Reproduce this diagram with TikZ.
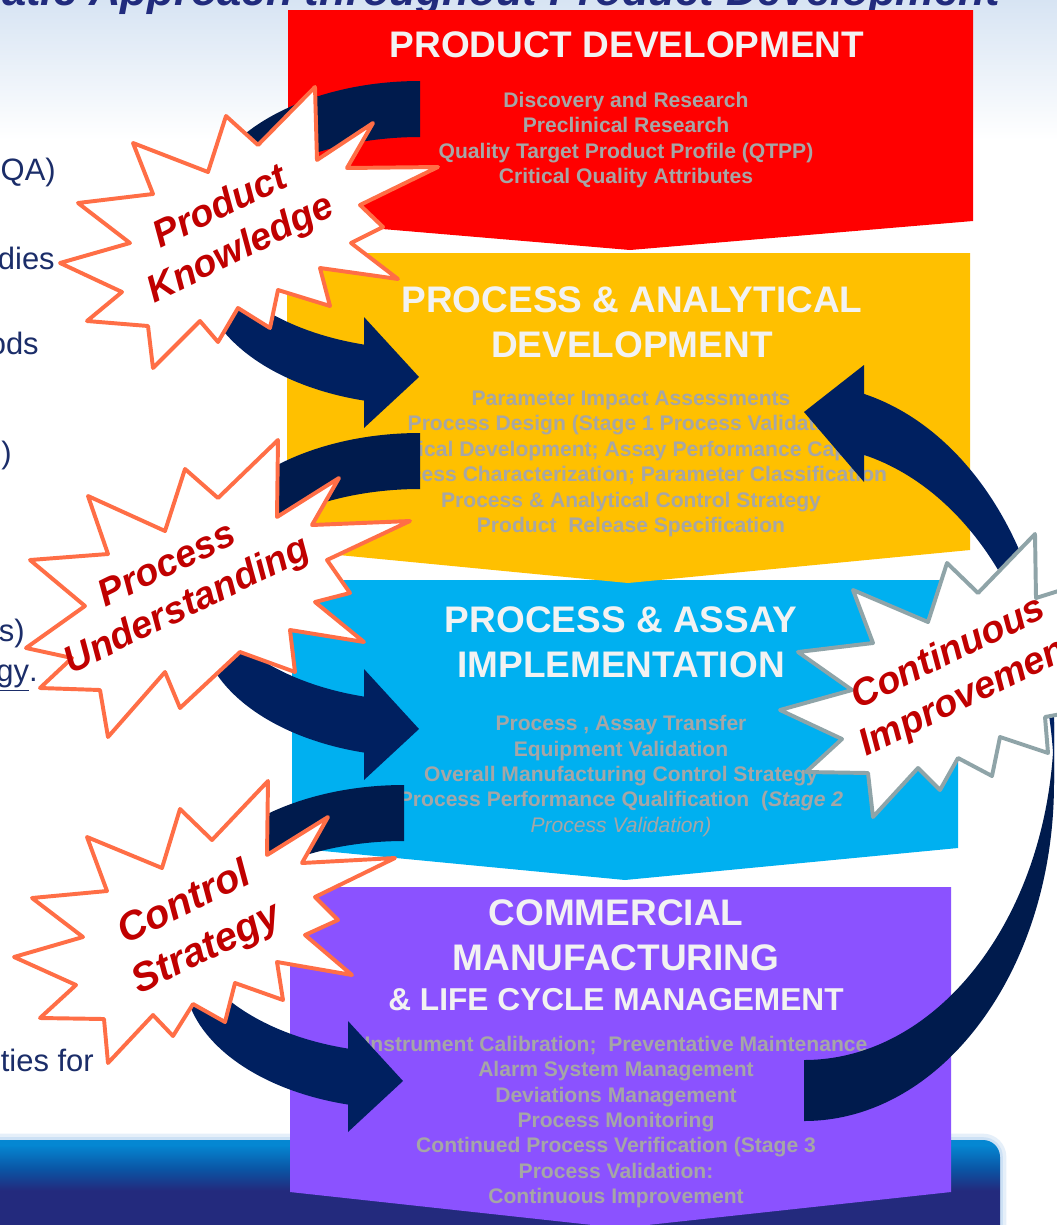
\documentclass[tikz,border=0pt]{standalone}
\usepackage{fontspec}
\setmainfont{Liberation Sans}
\usepackage{tikz}

\definecolor{pdred}{RGB}{255,0,0}
\definecolor{padyellow}{RGB}{255,192,0}
\definecolor{paicyan}{RGB}{0,176,240}
\definecolor{cmpurple}{RGB}{139,82,255}
\definecolor{titlewhite}{RGB}{242,242,242}
\definecolor{bodygray}{RGB}{166,166,166}
\definecolor{arrownavy}{RGB}{0,32,96}
\definecolor{arrowback}{RGB}{0,27,77}
\definecolor{burstorange}{RGB}{255,110,70}
\definecolor{burstgray}{RGB}{143,164,168}
\definecolor{burstred}{RGB}{192,0,0}
\definecolor{sidenavy}{RGB}{27,45,105}
\definecolor{headblue}{RGB}{33,43,125}
\definecolor{skyblue}{RGB}{215,228,243}
\definecolor{bartop}{RGB}{5,135,210}
\definecolor{barmid}{RGB}{10,85,165}
\definecolor{barnavy}{RGB}{35,42,125}
\definecolor{barglow}{RGB}{205,225,245}

\pgfdeclareverticalshading{barshade}{100bp}{color(0bp)=(barnavy); color(54bp)=(barnavy); color(63bp)=(barmid); color(73bp)=(bartop); color(100bp)=(bartop)}

\tikzset{
  boxtitle/.style={text=titlewhite, font=\bfseries\fontsize{26.3}{32}\selectfont, align=center},
  boxbody/.style={text=bodygray, font=\bfseries\fontsize{15}{18.1}\selectfont, align=center},
  burst/.style={fill=white, draw=burstorange, line width=2.8pt, line join=round},
  bursttext/.style={text=burstred, font=\bfseries\itshape\fontsize{27}{33}\selectfont, align=center, rotate=26},
  sidetext/.style={text=sidenavy, font=\fontsize{22}{26}\selectfont, anchor=east, inner sep=0pt},
}

\begin{document}
\begin{tikzpicture}[x=0.025cm, y=-0.025cm]
    \useasboundingbox (0,0) rectangle (1057,1225);
    \clip (0,0) rectangle (1057,1225);

    % Slide background
    \fill[white] (0,0) rectangle (1057,1225);
    \shade[top color=skyblue, bottom color=white] (0,0) rectangle (1057,140);
    \node[anchor=base east, text=headblue, font=\bfseries\itshape\fontsize{31}{37}\selectfont] (heading) at (1005,5) {Systematic Approach throughout Product Development};

    % Left column (cut off)
    \node[sidetext] (fragqa) at (56,172) {QA)};
    \node[sidetext] (fragdies) at (55,258) {dies};
    \node[sidetext] (fragods) at (39,343) {ods};
    \node[sidetext] (fragparen) at (12,455) {)};
    \node[sidetext] (frags) at (25,633) {s)};
    \node[sidetext] (fragegy) at (38,678) {\underline{egy}.};
    \node[sidetext] (fragties) at (94,1060) {ties for};

    % Bottom bar
    \draw[barglow, line width=9pt, rounded corners=12pt, opacity=0.5] (-40,1140) rectangle (1000,1260);
    \draw[barglow, line width=4pt, rounded corners=12pt] (-40,1140) rectangle (1000,1260);
    \shade[shading=barshade, rounded corners=12pt] (-40,1140) rectangle (1000,1260);

    % Chevron boxes
    \fill[cmpurple] (290,887) -- (951,887) -- (951,1192) -- (620,1228) -- (290,1192) -- cycle;
    \fill[paicyan] (292,580) -- (958,580) -- (958,848) -- (625,880) -- (292,848) -- cycle;
    \fill[padyellow] (287,253) -- (970,253) -- (970,550) -- (628,583) -- (287,550) -- cycle;
    \fill[pdred] (288,10) -- (973,10) -- (973,221) -- (630,250) -- (288,221) -- cycle;

    % Box texts
    \node[boxtitle] (pdtitle) at (627,45) {PRODUCT DEVELOPMENT};
    \node[boxbody] (pdbody) at (626,140) {Discovery and Research\\Preclinical Research\\Quality Target Product Profile (QTPP)\\Critical Quality Attributes};

    \node[boxtitle] (padtitle) at (632,322) {PROCESS \& ANALYTICAL\\DEVELOPMENT};
    \node[boxbody] (padbody) at (631,464) {Parameter Impact Assessments\\Process Design (Stage 1 Process Validation)\\Analytical Development; Assay Performance Capability\\Process Characterization; Parameter Classification\\Process \& Analytical Control Strategy\\Product~ Release Specification};

    \node[boxtitle] (paititle) at (621,642) {PROCESS \& ASSAY\\IMPLEMENTATION};
    \node[boxbody] (paibody) at (621,776) {Process , Assay Transfer\\Equipment Validation\\Overall Manufacturing Control Strategy\\Process Performance Qualification~ (\textit{Stage 2}\\\mdseries\itshape Process Validation)};

    \node[boxtitle] (cmtitle) at (616,935) {COMMERCIAL\\MANUFACTURING};
    \node[boxtitle, font=\bfseries\fontsize{22.5}{27}\selectfont] (lctitle) at (616,1000) {\& LIFE CYCLE MANAGEMENT};
    \node[boxbody] (cmbody) at (616,1122) {Instrument Calibration;~ Preventative Maintenance\\Alarm System Management\\Deviations Management\\Process Monitoring\\Continued Process Verification (Stage 3\\Process Validation:\\Continuous Improvement};

    % Curved arrows on the left
    \foreach \dx/\dy in {0/0, 0/352, -16/704}{
        \begin{scope}[shift={(\dx,\dy)}]
            \fill[arrowback] (420,81) arc[start angle=270, end angle=180, x radius=220, y radius=134]
                -- ++(0,56) arc[start angle=180, end angle=270, x radius=220, y radius=134] -- cycle;
            \fill[arrownavy] (200,215) arc[start angle=180, end angle=104.7, x radius=220, y radius=134]
                -- (364,317) -- (419,377) -- (364,428) -- (364.2,400.6)
                arc[start angle=104.7, end angle=180, x radius=220, y radius=134] -- cycle;
        \end{scope}
    }

    % Feedback arrow on the right
    \fill[arrowback] (1054,722) arc[start angle=0, end angle=90, x radius=250, y radius=338]
        -- ++(0,61) arc[start angle=90, end angle=0, x radius=250, y radius=338] -- cycle;
    \fill[arrownavy] (864.06,393.9) arc[start angle=-76.1, end angle=0, x radius=250, y radius=338]
        -- ++(0,61) arc[start angle=0, end angle=-76.1, x radius=250, y radius=338]
        -- (864,482) -- (804,412) -- (864,365) -- cycle;

    % Starbursts
    \draw[burst] (315,87) -- (317,160) -- (373,123) -- (347,168) -- (438,167) -- (360,205) -- (383,227)
        -- (351,243) -- (398,279) -- (320,268) -- (330,306) -- (278,290) -- (270,328) -- (238,308)
        -- (218,342) -- (200,321) -- (153,368) -- (148,326) -- (87,321) -- (122,292) -- (60,263)
        -- (130,243) -- (78,203) -- (153,194) -- (133,143) -- (208,172) -- (226,116) -- (258,145) -- cycle;
    \draw[burst] (278,440) -- (277,517) -- (339,478) -- (312,525) -- (410,521) -- (327,560) -- (350,593)
        -- (315,602) -- (364,642) -- (290,630) -- (295,672) -- (240,652) -- (180,708) -- (165,672)
        -- (108,737) -- (100,690) -- (40,688) -- (72,658) -- (26,648) -- (85,606) -- (30,560)
        -- (108,554) -- (88,496) -- (165,531) -- (185,469) -- (218,498) -- cycle;
    \draw[burst] (268,781) -- (267,855) -- (328,817) -- (302,863) -- (395,858) -- (315,897) -- (338,920)
        -- (305,935) -- (352,975) -- (277,962) -- (283,1000) -- (235,983) -- (225,1022) -- (193,1004)
        -- (173,1036) -- (153,1015) -- (108,1063) -- (104,1019) -- (40,1018) -- (76,985) -- (14,957)
        -- (83,937) -- (32,898) -- (107,891) -- (87,837) -- (162,868) -- (180,809) -- (212,840) -- cycle;
    \draw[burst, draw=burstgray] (1035,534) -- (1036,598) -- (1100,578) -- (1068,650) -- (1110,705)
        -- (1045,717) -- (1048,753) -- (1000,737) -- (992,776) -- (958,758) -- (940,790) -- (918,768)
        -- (873,817) -- (868,773) -- (806,772) -- (842,739) -- (780,710) -- (852,690) -- (798,652)
        -- (873,643) -- (853,590) -- (928,622) -- (947,563) -- (978,593) -- cycle;

    \node[bursttext] (knowledge) at (231,229) {Product\\Knowledge};
    \node[bursttext, font=\bfseries\itshape\fontsize{27}{32}\selectfont] (understanding) at (178,587) {Process\\Understanding};
    \node[bursttext, font=\bfseries\itshape\fontsize{28.5}{36}\selectfont] (control) at (196,927) {Control\\Strategy};
    \node[bursttext] (improvement) at (959,675) {Continuous\\Improvement};
\end{tikzpicture}
\end{document}
